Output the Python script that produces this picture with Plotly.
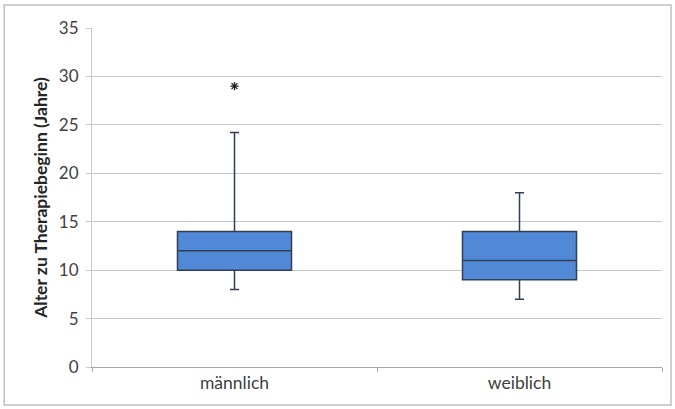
import plotly.graph_objects as go

categories = ["männlich", "weiblich"]
lower_whisker = [8, 7]
q1_values = [10, 9]
median_values = [12, 11]
q3_values = [14, 14]
upper_whisker = [24.2, 18]
outlier_cats = ["männlich"]
outlier_values = [29]

y_tick_values = [0, 5, 10, 15, 20, 25, 30, 35]
y_title = "Alter zu Therapiebeginn (Jahre)"

FONT = "Lato, 'Open Sans', 'Liberation Sans', sans-serif"

fig = go.Figure()
fig.add_trace(go.Box(
    x=categories,
    q1=q1_values,
    median=median_values,
    q3=q3_values,
    lowerfence=lower_whisker,
    upperfence=upper_whisker,
    boxpoints=False,
    width=0.4,
    whiskerwidth=0.08,
    fillcolor="#5189d6",
    line=dict(color="#2e3f56", width=1.5),
    showlegend=False,
    hoverinfo="skip",
))
fig.add_trace(go.Scatter(
    x=outlier_cats,
    y=outlier_values,
    mode="markers",
    marker=dict(symbol="asterisk-open", size=7, color="#222222",
                line=dict(color="#222222", width=1.3)),
    showlegend=False,
    hoverinfo="skip",
))

fig.update_layout(
    width=675, height=409,
    margin=dict(l=92, r=13, t=28, b=42),
    paper_bgcolor="white",
    plot_bgcolor="white",
    font=dict(family=FONT, size=16, color="#404040"),
    shapes=[dict(type="rect", xref="paper", yref="paper",
                 x0=-0.154, x1=1.0158, y0=-0.112, y1=1.068,
                 line=dict(color="#bfbfbf", width=1.5), fillcolor="rgba(0,0,0,0)",
                 layer="below")],
)
fig.update_xaxes(
    type="category",
    range=[-0.5, 1.5],
    showline=True, linecolor="#a6a6a6", linewidth=1,
    ticks="outside", tickson="boundaries", ticklen=4, tickcolor="#a6a6a6",
    showgrid=False,
    tickfont=dict(size=17.5, color="#404040"),
)
fig.update_yaxes(
    range=[0, 35],
    tickvals=y_tick_values,
    showline=True, linecolor="#c8c8c8", linewidth=1,
    ticks="outside", ticklen=5, tickcolor="#c8c8c8",
    showgrid=True, gridcolor="#c8c8c8", gridwidth=1,
    zeroline=False,
    ticklabelstandoff=4,
    tickfont=dict(size=17, color="#404040"),
    title=dict(text="<b>" + y_title + "</b>", font=dict(size=17.5, color="#262626"), standoff=6),
)

fig.write_html("out.html", config={"displayModeBar": False},
               post_script="document.body.style.margin='0px';")
